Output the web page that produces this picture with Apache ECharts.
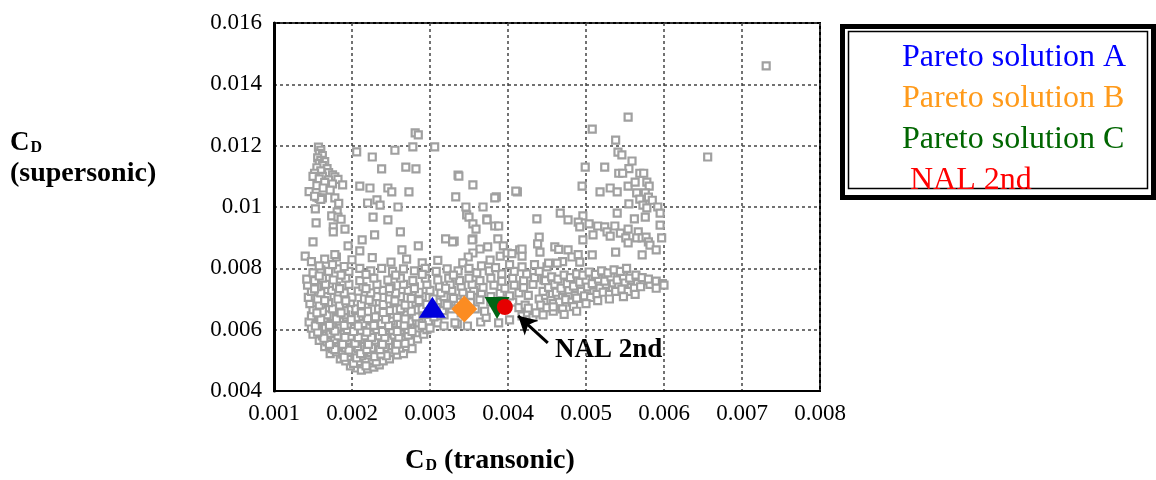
<!DOCTYPE html>
<html>
<head>
<meta charset="utf-8">
<script src="https://cdn.jsdelivr.net/npm/echarts@6/dist/echarts.min.js"></script>
<style>
  html, body { margin: 0; padding: 0; background: #fff; }
  #chart { width: 1156px; height: 480px; }
</style>
</head>
<body>
<div id="chart"></div>
<script>
// 轴刻度
const xTickLabels = ['0.001', '0.002', '0.003', '0.004', '0.005', '0.006', '0.007', '0.008'];
const yTickLabels = ['0.004', '0.006', '0.008', '0.01', '0.012', '0.014', '0.016'];

// 灰色散点 (transonic CD, supersonic CD)
const leftColumn = [
  [0.00157,0.01195],[0.00160,0.01185],[0.00158,0.01175],[0.00162,0.01168],[0.00156,0.01160],[0.00160,0.01152],
  [0.00165,0.01148],[0.00158,0.01142],[0.00162,0.01135],[0.00155,0.01128],[0.00168,0.01125],[0.00160,0.01118],
  [0.00152,0.01110],[0.00170,0.01112],[0.00175,0.01105],[0.00162,0.01100],[0.00178,0.01098],[0.00150,0.01100],
  [0.00158,0.01092],[0.00170,0.01088],[0.00182,0.01090],[0.00165,0.01080],[0.00175,0.01075],[0.00155,0.01070],
  [0.00188,0.01072],[0.00163,0.01062],[0.00145,0.01050],[0.00172,0.01055],[0.00155,0.01032],[0.00158,0.01028],
  [0.00162,0.01030],[0.00160,0.01025],[0.00152,0.01035],[0.00178,0.01030],[0.00183,0.01012],[0.00153,0.00994],
  [0.00181,0.00984],[0.00174,0.00971],[0.00182,0.00967],[0.00154,0.00948],[0.00176,0.00935],[0.00176,0.00919],
  [0.00191,0.00928],[0.00150,0.00886],[0.00195,0.00873],[0.00140,0.00840],[0.00180,0.00837],[0.00186,0.00960]
];
const upperScatter = [
  [0.00206,0.01180],[0.00226,0.01163],[0.00238,0.01124],[0.00269,0.01130],[0.00282,0.01124],[0.00278,0.01196],
  [0.00281,0.01242],[0.00285,0.01235],[0.00306,0.01196],[0.00255,0.01185],[0.00210,0.01068],[0.00223,0.01062],
  [0.00246,0.01062],[0.00251,0.01049],[0.00273,0.01049],[0.00220,0.01013],[0.00232,0.01023],[0.00236,0.01006],
  [0.00259,0.01000],[0.00227,0.00967],[0.00246,0.00958],[0.00229,0.00909],[0.00262,0.00919],[0.00213,0.00893],
  [0.00210,0.00857],[0.00264,0.00860],[0.00285,0.00873],[0.00336,0.01104],[0.00333,0.01033],[0.00347,0.00974],
  [0.00320,0.00896],[0.00331,0.00889],[0.00337,0.01101],[0.00355,0.01072],[0.00385,0.01033],[0.00412,0.01049],
  [0.00346,0.01000],[0.00368,0.01000],[0.00350,0.00967],[0.00373,0.00961],[0.00355,0.00945],[0.00359,0.00928],
  [0.00383,0.00938],[0.00388,0.00938],[0.00437,0.00961],[0.00329,0.00886],[0.00355,0.00896],[0.00387,0.00896],
  [0.00440,0.00902],[0.00438,0.00880],[0.00374,0.00870],[0.00394,0.00873],[0.00364,0.00863],[0.00355,0.00850],
  [0.00349,0.00837],[0.00342,0.00818],[0.00390,0.00840],[0.00377,0.00827],[0.00415,0.00860],[0.00418,0.00840],
  [0.00399,0.00850],[0.00405,0.00848],[0.00148,0.00822],[0.00165,0.00830],[0.00178,0.00845],[0.00200,0.00828],
  [0.00226,0.00835],[0.00250,0.00820],[0.00270,0.00830],[0.00290,0.00818],[0.00310,0.00826],[0.00383,0.01030],
  [0.00410,0.01052],[0.00373,0.00958],[0.00354,0.00893],[0.00418,0.00863],[0.00441,0.00853]
];
const lowerCluster = [
  [0.00205,0.00475],[0.00212,0.00468],[0.00220,0.00472],[0.00228,0.00478],[0.00198,0.00482],[0.00235,0.00485],
  [0.00215,0.00488],[0.00225,0.00492],
  [0.00185,0.00505],[0.00192,0.00498],[0.00200,0.00502],[0.00208,0.00496],[0.00218,0.00505],[0.00226,0.00500],
  [0.00233,0.00508],[0.00240,0.00498],[0.00248,0.00505],[0.00195,0.00512],[0.00212,0.00515],[0.00222,0.00518],
  [0.00172,0.00522],[0.00180,0.00528],[0.00188,0.00520],[0.00196,0.00526],[0.00204,0.00520],[0.00214,0.00530],
  [0.00224,0.00526],[0.00232,0.00522],[0.00240,0.00530],[0.00250,0.00525],[0.00258,0.00518],[0.00266,0.00522],
  [0.00244,0.00515],
  [0.00165,0.00545],[0.00175,0.00538],[0.00183,0.00545],[0.00192,0.00540],[0.00200,0.00548],[0.00208,0.00538],
  [0.00216,0.00545],[0.00225,0.00540],[0.00234,0.00548],[0.00242,0.00542],[0.00252,0.00548],[0.00262,0.00540],
  [0.00270,0.00545],[0.00277,0.00538],
  [0.00158,0.00565],[0.00168,0.00560],[0.00178,0.00568],[0.00186,0.00558],[0.00195,0.00566],[0.00203,0.00560],
  [0.00212,0.00568],[0.00220,0.00560],[0.00230,0.00566],[0.00238,0.00558],[0.00247,0.00565],[0.00256,0.00560],
  [0.00265,0.00568],[0.00275,0.00562],[0.00284,0.00570],
  [0.00150,0.00585],[0.00162,0.00580],[0.00172,0.00588],[0.00182,0.00580],[0.00190,0.00588],[0.00198,0.00578],
  [0.00207,0.00586],[0.00216,0.00580],[0.00226,0.00588],[0.00235,0.00580],[0.00244,0.00588],[0.00254,0.00582],
  [0.00262,0.00590],[0.00272,0.00582],[0.00282,0.00590],[0.00292,0.00585],
  [0.00148,0.00605],[0.00158,0.00600],[0.00166,0.00608],[0.00176,0.00600],[0.00185,0.00608],[0.00194,0.00600],
  [0.00203,0.00606],[0.00212,0.00598],[0.00222,0.00608],[0.00232,0.00600],[0.00242,0.00606],[0.00252,0.00598],
  [0.00262,0.00608],[0.00272,0.00600],[0.00284,0.00606],[0.00296,0.00600],
  [0.00145,0.00625],[0.00155,0.00618],[0.00164,0.00628],[0.00174,0.00620],[0.00184,0.00628],[0.00194,0.00618],
  [0.00204,0.00626],[0.00214,0.00620],[0.00226,0.00628],[0.00238,0.00620],[0.00250,0.00628],[0.00262,0.00620],
  [0.00274,0.00628],[0.00286,0.00622],[0.00298,0.00628],[0.00310,0.00622],
  [0.00148,0.00645],[0.00158,0.00640],[0.00168,0.00648],[0.00180,0.00640],[0.00192,0.00648],[0.00205,0.00640],
  [0.00218,0.00648],[0.00230,0.00642],[0.00244,0.00648],[0.00258,0.00640],[0.00270,0.00648],[0.00282,0.00642],
  [0.00292,0.00650],[0.00305,0.00642],[0.00318,0.00648],
  [0.00150,0.00665],[0.00162,0.00660],[0.00175,0.00668],[0.00190,0.00662],[0.00205,0.00668],[0.00220,0.00660],
  [0.00234,0.00668],[0.00248,0.00662],[0.00262,0.00668],[0.00276,0.00660],[0.00290,0.00668],[0.00316,0.00662],
  [0.00328,0.00668],
  [0.00146,0.00685],[0.00158,0.00680],[0.00170,0.00688],[0.00184,0.00680],[0.00198,0.00688],[0.00212,0.00682],
  [0.00226,0.00690],[0.00240,0.00682],[0.00254,0.00688],[0.00268,0.00680],[0.00282,0.00688],[0.00296,0.00682],
  [0.00310,0.00690],[0.00324,0.00684],[0.00336,0.00690],
  [0.00144,0.00705],[0.00156,0.00700],[0.00168,0.00708],[0.00182,0.00700],[0.00200,0.00706],[0.00216,0.00700],
  [0.00232,0.00708],[0.00248,0.00700],[0.00262,0.00708],[0.00276,0.00702],[0.00290,0.00708],[0.00304,0.00700],
  [0.00318,0.00708],[0.00330,0.00702],[0.00344,0.00708],
  [0.00148,0.00725],[0.00160,0.00720],[0.00174,0.00728],[0.00190,0.00720],[0.00208,0.00726],[0.00224,0.00720],
  [0.00240,0.00728],[0.00256,0.00720],[0.00272,0.00728],[0.00286,0.00722],[0.00300,0.00728],[0.00314,0.00720],
  [0.00328,0.00728],[0.00342,0.00722],[0.00356,0.00728],
  [0.00143,0.00745],[0.00155,0.00740],[0.00166,0.00748],[0.00180,0.00742],[0.00196,0.00748],[0.00214,0.00740],
  [0.00232,0.00748],[0.00250,0.00742],[0.00266,0.00748],[0.00280,0.00740],[0.00296,0.00748],[0.00312,0.00742],
  [0.00326,0.00748],[0.00340,0.00742],[0.00354,0.00748],
  [0.00142,0.00765],[0.00152,0.00760],[0.00162,0.00768],[0.00176,0.00762],[0.00192,0.00768],[0.00210,0.00760],
  [0.00228,0.00768],[0.00246,0.00762],[0.00262,0.00768],[0.00278,0.00760],[0.00294,0.00768],[0.00310,0.00762],
  [0.00324,0.00768],[0.00338,0.00760],[0.00350,0.00768],
  [0.00150,0.00785],[0.00160,0.00795],[0.00170,0.00790],[0.00182,0.00798],[0.00196,0.00790],[0.00210,0.00800],
  [0.00224,0.00792],[0.00238,0.00800],[0.00252,0.00790],[0.00266,0.00798],[0.00280,0.00792],[0.00294,0.00800],
  [0.00308,0.00790],[0.00322,0.00798],[0.00336,0.00792],[0.00158,0.00808],[0.00175,0.00812],[0.00190,0.00806]
];
// 下部密集区的补充点
const denseCore = [
  [0.00202,0.00490],[0.00218,0.00482],[0.00231,0.00495],[0.00190,0.00510],[0.00206,0.00508],[0.00229,0.00512],
  [0.00237,0.00520],[0.00178,0.00535],[0.00196,0.00533],[0.00211,0.00522],[0.00219,0.00535],[0.00236,0.00535],
  [0.00256,0.00533],[0.00171,0.00552],[0.00188,0.00552],[0.00204,0.00555],[0.00221,0.00552],[0.00239,0.00552],
  [0.00258,0.00553],[0.00268,0.00555],[0.00164,0.00572],[0.00191,0.00575],[0.00208,0.00574],[0.00225,0.00575],
  [0.00242,0.00575],[0.00260,0.00576],[0.00156,0.00592],[0.00178,0.00595],[0.00202,0.00594],[0.00219,0.00592],
  [0.00239,0.00594],[0.00258,0.00594],[0.00277,0.00594],[0.00153,0.00612],[0.00171,0.00614],[0.00190,0.00614],
  [0.00208,0.00612],[0.00228,0.00614],[0.00247,0.00613],[0.00267,0.00614],[0.00290,0.00614],[0.00160,0.00633],
  [0.00180,0.00635],[0.00199,0.00633],[0.00220,0.00636],[0.00243,0.00634],[0.00268,0.00635],[0.00155,0.00655],
  [0.00186,0.00655],[0.00212,0.00655],[0.00240,0.00656],[0.00165,0.00695],[0.00192,0.00694],[0.00222,0.00696],
  [0.00255,0.00694],[0.00286,0.00695],[0.00152,0.00733],[0.00184,0.00734],[0.00218,0.00734],[0.00248,0.00734],
  [0.00280,0.00734],[0.00320,0.00735],[0.00158,0.00775],[0.00186,0.00778],[0.00218,0.00780],[0.00256,0.00778],
  [0.00290,0.00780],[0.00330,0.00778]
];
const middleBand = [
  [0.00300,0.00605],[0.00318,0.00612],[0.00335,0.00618],[0.00348,0.00612],[0.00365,0.00625],[0.00388,0.00622],
  [0.00402,0.00632],[0.00418,0.00645],[0.00425,0.00655],[0.00432,0.00640],[0.00332,0.00622],[0.00372,0.00640],
  [0.00340,0.00655],[0.00358,0.00668],[0.00370,0.00660],[0.00378,0.00690],[0.00392,0.00700],[0.00406,0.00690],
  [0.00414,0.00672],[0.00422,0.00680],[0.00352,0.00688],[0.00364,0.00698],[0.00308,0.00672],[0.00322,0.00680],
  [0.00352,0.00712],[0.00366,0.00720],[0.00378,0.00708],[0.00390,0.00718],[0.00402,0.00710],[0.00414,0.00720],
  [0.00426,0.00712],[0.00368,0.00738],[0.00382,0.00745],[0.00396,0.00735],[0.00408,0.00745],[0.00420,0.00738],
  [0.00432,0.00748],[0.00364,0.00760],[0.00378,0.00768],[0.00392,0.00758],[0.00406,0.00768],[0.00420,0.00760],
  [0.00434,0.00770],[0.00446,0.00762],[0.00360,0.00785],[0.00376,0.00792],[0.00392,0.00782],[0.00408,0.00790],
  [0.00424,0.00782],[0.00440,0.00790],[0.00350,0.00800],[0.00366,0.00808],[0.00384,0.00802],[0.00402,0.00812],
  [0.00418,0.00805],[0.00434,0.00812],[0.00450,0.00805]
];
const rightBand = [
  [0.00440,0.00700],[0.00448,0.00712],[0.00455,0.00695],[0.00462,0.00722],[0.00470,0.00705],[0.00478,0.00730],
  [0.00486,0.00712],[0.00494,0.00725],[0.00502,0.00740],[0.00510,0.00722],[0.00518,0.00735],[0.00526,0.00748],
  [0.00534,0.00730],[0.00542,0.00745],[0.00550,0.00755],[0.00558,0.00738],[0.00566,0.00750],[0.00574,0.00760],
  [0.00582,0.00748],[0.00590,0.00758],[0.00598,0.00750],
  [0.00445,0.00725],[0.00452,0.00738],[0.00460,0.00748],[0.00468,0.00735],[0.00476,0.00750],[0.00484,0.00742],
  [0.00492,0.00755],[0.00500,0.00762],[0.00508,0.00750],[0.00516,0.00765],[0.00524,0.00758],[0.00532,0.00772],
  [0.00540,0.00762],[0.00548,0.00775],[0.00556,0.00768],[0.00564,0.00778],[0.00572,0.00770],[0.00580,0.00765],
  [0.00442,0.00680],[0.00450,0.00672],[0.00458,0.00685],[0.00466,0.00690],[0.00474,0.00698],[0.00482,0.00690],
  [0.00490,0.00702],[0.00498,0.00710],[0.00506,0.00705],[0.00514,0.00715],[0.00522,0.00722],[0.00530,0.00715],
  [0.00538,0.00725],[0.00546,0.00732],[0.00554,0.00725],[0.00562,0.00735],[0.00570,0.00740],
  [0.00448,0.00760],[0.00456,0.00772],[0.00464,0.00765],[0.00472,0.00778],[0.00480,0.00770],[0.00488,0.00782],
  [0.00496,0.00778],[0.00504,0.00788],[0.00512,0.00780],[0.00520,0.00792],[0.00528,0.00785],[0.00536,0.00795],
  [0.00544,0.00790],[0.00552,0.00800],
  [0.00436,0.00655],[0.00445,0.00648],[0.00458,0.00660],[0.00470,0.00668],[0.00484,0.00675],[0.00500,0.00685],
  [0.00472,0.00650],[0.00488,0.00660],[0.00515,0.00695],[0.00530,0.00700],[0.00548,0.00708],[0.00563,0.00715],
  [0.00590,0.00735],[0.00600,0.00745],[0.00458,0.00674],[0.00488,0.00703],[0.00426,0.00670]
];
const rightUpper = [
  [0.00554,0.01293],[0.00508,0.01254],[0.00538,0.01218],[0.00541,0.01179],[0.00546,0.01170],[0.00499,0.01130],
  [0.00524,0.01130],[0.00559,0.01150],[0.00555,0.01125],[0.00542,0.01110],[0.00547,0.01110],[0.00569,0.01110],
  [0.00574,0.01110],[0.00495,0.01068],[0.00518,0.01049],[0.00531,0.01062],[0.00540,0.01049],[0.00554,0.01068],
  [0.00563,0.01081],[0.00578,0.01081],[0.00581,0.01068],[0.00565,0.01046],[0.00576,0.01046],[0.00569,0.01026],
  [0.00580,0.01032],[0.00585,0.01022],[0.00555,0.01010],[0.00573,0.01006],[0.00578,0.00997],[0.00592,0.01000],
  [0.00576,0.00967],[0.00595,0.00980],[0.00595,0.00941],[0.00540,0.00980],[0.00562,0.00961],[0.00467,0.00980],
  [0.00496,0.00971],[0.00477,0.00958],[0.00490,0.00951],[0.00492,0.00935],[0.00504,0.00945],[0.00515,0.00938],
  [0.00524,0.00935],[0.00527,0.00919],[0.00537,0.00938],[0.00531,0.00905],[0.00544,0.00915],[0.00554,0.00928],
  [0.00551,0.00899],[0.00554,0.00883],[0.00567,0.00919],[0.00565,0.00899],[0.00572,0.00899],[0.00577,0.00902],
  [0.00580,0.00886],[0.00582,0.00876],[0.00590,0.00860],[0.00597,0.00899],[0.00572,0.00844],[0.00538,0.00853],
  [0.00508,0.00844],[0.00509,0.00909],[0.00496,0.00893],[0.00460,0.00870],[0.00465,0.00862],[0.00477,0.00860],
  [0.00482,0.00837],[0.00490,0.00845],[0.00492,0.00820],[0.00470,0.00822],[0.00463,0.00817],[0.00452,0.00817]
];
const outliers = [[0.00656,0.01163],[0.00731,0.01460]];

// 标记点
const paretoA = [[0.00303, 0.00673]];
const paretoB = [[0.00344, 0.00667]];
const paretoC = [[0.00386, 0.00671]];
const nal2nd = [[0.00396, 0.00674]];
// 箭头 (尾, 头)
const arrowFrom = [0.00451, 0.00557];
const arrowTo = [0.00413, 0.00645];

const grayPoints = [].concat(leftColumn, upperScatter, lowerCluster, denseCore, middleBand, rightBand, rightUpper, outliers);

const serif = '"Liberation Serif", "Times New Roman", serif';
const chart = echarts.init(document.getElementById('chart'));

chart.setOption({
  animation: false,
  grid: {
    left: 274, right: 336, top: 23, bottom: 89,
    show: true,
    borderColor: '#000',
    borderWidth: 2,
    backgroundColor: '#fff'
  },
  legend: {
    orient: 'vertical',
    left: 892,
    top: 33,
    itemWidth: 0,
    itemHeight: 0,
    itemGap: 1,
    selectedMode: false,
    textStyle: { fontFamily: serif, fontSize: 32, lineHeight: 40 },
    data: [
      { name: 'Pareto solution A', textStyle: { color: '#0000ff' } },
      { name: 'Pareto solution B', textStyle: { color: '#ff9a1a' } },
      { name: 'Pareto solution C', textStyle: { color: '#006600' } },
      { name: ' NAL 2nd', textStyle: { color: '#ff0000' } }
    ]
  },
  xAxis: {
    type: 'value',
    min: 0.001,
    max: 0.008,
    interval: 0.001,
    axisLine: { lineStyle: { color: '#000', width: 2 } },
    axisTick: { show: false },
    axisLabel: {
      margin: 11,
      color: '#000',
      fontFamily: serif,
      fontSize: 23,
      formatter: (v, i) => xTickLabels[i]
    },
    splitLine: { lineStyle: { color: '#444', width: 1.5, type: [3, 3] } }
  },
  yAxis: {
    type: 'value',
    min: 0.004,
    max: 0.016,
    interval: 0.002,
    axisLine: { show: true, lineStyle: { color: '#000', width: 3 } },
    axisTick: { show: false },
    axisLabel: {
      margin: 12,
      color: '#000',
      fontFamily: serif,
      fontSize: 23,
      formatter: (v, i) => yTickLabels[i]
    },
    splitLine: { lineStyle: { color: '#444', width: 1.5, type: [3, 3] } }
  },
  graphic: [
    // 图例外框
    {
      type: 'rect',
      shape: { x: 842.5, y: 26.5, width: 311, height: 171 },
      style: { fill: '#fff', stroke: '#000', lineWidth: 5 },
      z: -1
    },
    {
      type: 'rect',
      shape: { x: 848.5, y: 31.5, width: 299, height: 157 },
      style: { fill: 'none', stroke: '#000', lineWidth: 1.5 },
      z: -1
    },
    // 纵轴标题
    {
      type: 'text',
      left: 10,
      top: 130,
      style: {
        text: '{c|C}{d|D}\n{b|(supersonic)}',
        fill: '#000',
        rich: {
          c: { fontFamily: serif, fontWeight: 'bold', fontSize: 27, lineHeight: 33, verticalAlign: 'bottom' },
          d: { fontFamily: serif, fontWeight: 'bold', fontSize: 16, lineHeight: 33, verticalAlign: 'bottom', padding: [0, 0, 1, 1] },
          b: { fontFamily: serif, fontWeight: 'bold', fontSize: 28, lineHeight: 33 }
        }
      }
    },
    // 横轴标题
    {
      type: 'text',
      left: 405,
      top: 447,
      style: {
        text: '{c|C}{d|D}{b| (transonic)}',
        fill: '#000',
        rich: {
          c: { fontFamily: serif, fontWeight: 'bold', fontSize: 27, lineHeight: 32, verticalAlign: 'bottom' },
          d: { fontFamily: serif, fontWeight: 'bold', fontSize: 16, lineHeight: 32, verticalAlign: 'bottom', padding: [0, 0, 1, 1] },
          b: { fontFamily: serif, fontWeight: 'bold', fontSize: 28, lineHeight: 32, verticalAlign: 'bottom' }
        }
      }
    },
    // 箭头说明文字
    {
      type: 'text',
      left: 555,
      top: 337,
      style: {
        text: 'NAL 2nd',
        fill: '#000',
        font: 'bold 27px ' + serif
      }
    }
  ],
  series: [
    {
      name: 'solutions',
      type: 'scatter',
      data: grayPoints,
      symbol: 'rect',
      symbolSize: 7,
      itemStyle: { color: '#fff', borderColor: '#a0a0a0', borderWidth: 2.2, opacity: 1 },
      silent: true,
      z: 2
    },
    {
      name: 'Pareto solution A',
      type: 'scatter',
      data: paretoA,
      symbol: 'triangle',
      symbolSize: [27, 21],
      itemStyle: { color: '#0000dd', opacity: 1 },
      z: 5
    },
    {
      name: 'Pareto solution B',
      type: 'scatter',
      data: paretoB,
      symbol: 'diamond',
      symbolSize: [26, 27],
      itemStyle: { color: '#fb8c22', opacity: 1 },
      z: 5
    },
    {
      name: 'Pareto solution C',
      type: 'scatter',
      data: paretoC,
      symbol: 'triangle',
      symbolRotate: 180,
      symbolSize: [25, 22],
      itemStyle: { color: '#006414', opacity: 1 },
      z: 5
    },
    {
      name: ' NAL 2nd',
      type: 'scatter',
      data: nal2nd,
      symbol: 'circle',
      symbolSize: 16,
      itemStyle: { color: '#e60000', opacity: 1 },
      z: 6,
      markLine: {
        silent: true,
        symbol: ['none', 'arrow'],
        symbolSize: [15, 18],
        label: { show: false },
        lineStyle: { color: '#000', width: 3, type: 'solid' },
        data: [[{ coord: arrowFrom }, { coord: arrowTo }]]
      }
    }
  ]
});

window.addEventListener('resize', () => chart.resize());
</script>
</body>
</html>
